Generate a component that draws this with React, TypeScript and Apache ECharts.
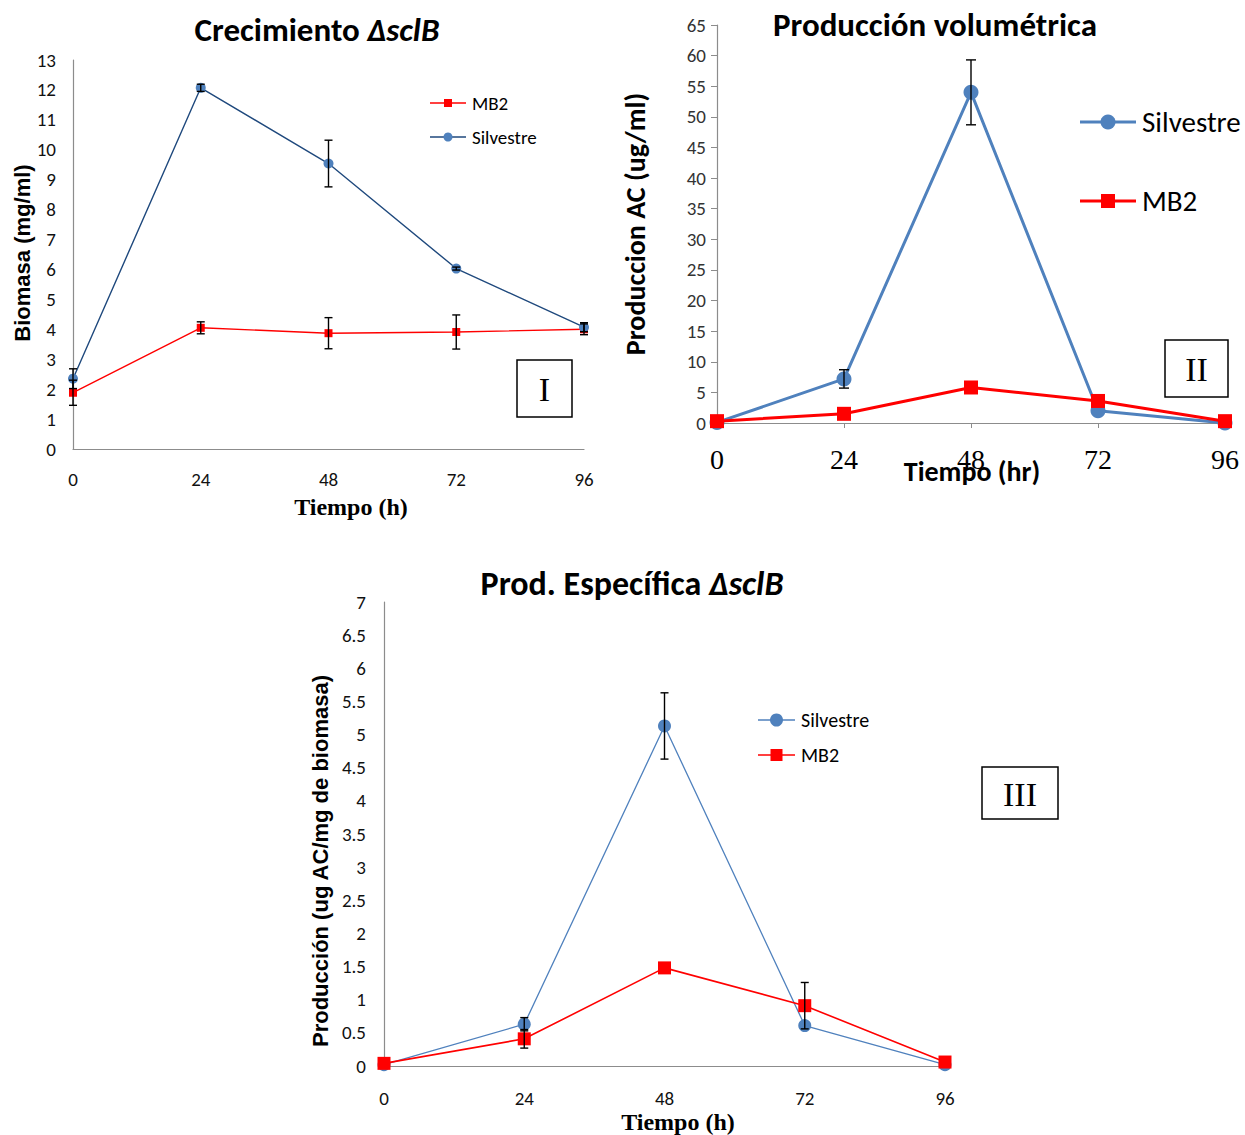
import React, { useEffect, useRef } from "react";
import * as echarts from "echarts";

// ---------- data ----------
const hours = [0, 24, 48, 72, 96];

// Chart I – Crecimiento (Biomasa mg/ml)
const bioSilvestre = [2.35, 12.07, 9.54, 6.03, 4.07];
const bioSilvestreErr = [0.33, 0.12, 0.78, 0.05, 0.15];
const bioMB2 = [1.88, 4.05, 3.87, 3.91, 4.0];
const bioMB2Err = [0.42, 0.2, 0.52, 0.57, 0.18];

// Chart II – Producción volumétrica (ug/ml)
const volSilvestre = [0.1, 7.2, 54.0, 2.0, 0.0];
const volSilvestreErr = [0, 1.5, 5.3, 0, 0];
const volMB2 = [0.3, 1.5, 5.8, 3.6, 0.3];

// Chart III – Prod. específica (ug AC/mg biomasa)
const espSilvestre = [0.02, 0.63, 5.13, 0.61, 0.02];
const espSilvestreErr = [0, 0.1, 0.5, 0, 0];
const espMB2 = [0.04, 0.41, 1.48, 0.91, 0.06];
const espMB2Err = [0, 0.14, 0, 0.35, 0];

const SANS = "Carlito, Lato, 'Open Sans', sans-serif";
const ARIAL = "'Liberation Sans', Arial, sans-serif";
const SERIF = "'Liberation Serif', 'Times New Roman', serif";

const BLUE = "#4F81BD";
const DARKBLUE = "#1F497D";
const RED = "#FF0000";

const pts = (vals: number[]) => hours.map((h, i) => [h, vals[i]]);
const errs = (vals: number[], e: number[]) =>
  hours
    .map((h, i) => [h, vals[i] - e[i], vals[i] + e[i], e[i]])
    .filter((d) => d[3] > 0)
    .map((d) => [d[0], d[1], d[2]]);

const errorBars = (data: number[][], idx: number, cap: number, lw: number) => ({
  type: "custom",
  xAxisIndex: idx,
  yAxisIndex: idx,
  data,
  z: 5,
  silent: true,
  encode: { x: 0, y: [1, 2] },
  renderItem: (params: any, api: any) => {
    const x = api.value(0);
    const lo = api.value(1);
    const hi = api.value(2);
    const top = api.coord([x, hi]);
    const bot = api.coord([x, lo]);
    const style = { stroke: "#000", lineWidth: lw };
    return {
      type: "group",
      children: [
        { type: "line", shape: { x1: top[0], y1: top[1], x2: bot[0], y2: bot[1] }, style },
        { type: "line", shape: { x1: top[0] - cap, y1: top[1], x2: top[0] + cap, y2: top[1] }, style },
        { type: "line", shape: { x1: bot[0] - cap, y1: bot[1], x2: bot[0] + cap, y2: bot[1] }, style },
      ],
    };
  },
});

const lineSeries = (
  name: string,
  vals: number[],
  idx: number,
  color: string,
  lineColor: string,
  width: number,
  symbol: string,
  size: number,
  z: number
) => ({
  type: "line",
  name,
  xAxisIndex: idx,
  yAxisIndex: idx,
  data: pts(vals),
  symbol,
  symbolSize: size,
  showAllSymbol: true,
  z,
  lineStyle: { color: lineColor, width },
  itemStyle: { color, borderWidth: 0 },
});

const legendItem = (
  x1: number,
  x2: number,
  y: number,
  color: string,
  lineColor: string,
  lw: number,
  shape: "circle" | "rect",
  size: number,
  label: string,
  fontSize: number
) => {
  const cx = (x1 + x2) / 2;
  const marker =
    shape === "circle"
      ? { type: "circle", shape: { cx, cy: y, r: size / 2 }, style: { fill: color } }
      : { type: "rect", shape: { x: cx - size / 2, y: y - size / 2, width: size, height: size }, style: { fill: color } };
  return [
    { type: "line", shape: { x1, y1: y, x2, y2: y }, style: { stroke: lineColor, lineWidth: lw } },
    marker,
    {
      type: "text",
      x: x2 + 6,
      y,
      style: { text: label, fontSize, fontFamily: SANS, fill: "#000", textVerticalAlign: "middle", textAlign: "left" },
    },
  ];
};

const box = (x: number, y: number, w: number, h: number, label: string) => [
  { type: "rect", shape: { x, y, width: w, height: h }, style: { fill: "#fff", stroke: "#000", lineWidth: 1.5 } },
  {
    type: "text",
    x: x + w / 2,
    y: y + h / 2 + 1,
    style: { text: label, fontSize: 34, fontFamily: SERIF, fill: "#000", textAlign: "center", textVerticalAlign: "middle" },
  },
];

const centeredText = (x: number, y: number, text: string, font: any, rotate = 0, rich?: any) => ({
  type: "text",
  x,
  y,
  rotation: rotate,
  style: {
    text,
    fill: "#000",
    textAlign: "center",
    textVerticalAlign: "middle",
    ...font,
    ...(rich ? { rich } : {}),
  },
});

export default function App() {
  const ref = useRef<HTMLDivElement>(null);

  useEffect(() => {
    if (!ref.current) return;
    const chart = echarts.init(ref.current, undefined, { renderer: "svg" });

    const axisGray = "#8C8C8C";

    const option: any = {
      animation: false,
      backgroundColor: "#fff",
      grid: [
        { left: 73, top: 60, width: 511, height: 389 },
        { left: 717, top: 25, width: 508, height: 398 },
        { left: 384, top: 602, width: 561, height: 464 },
      ],
      xAxis: [
        {
          type: "value",
          gridIndex: 0,
          min: 0,
          max: 96,
          interval: 24,
          axisLine: { show: true, lineStyle: { color: axisGray, width: 1.2 } },
          axisTick: { show: false },
          splitLine: { show: false },
          axisLabel: { margin: 21, fontSize: 19, fontFamily: SANS, color: "#111" },
        },
        {
          type: "value",
          gridIndex: 1,
          min: 0,
          max: 96,
          interval: 24,
          axisLine: { show: true, lineStyle: { color: axisGray, width: 1.2 } },
          axisTick: { show: true, length: 5, lineStyle: { color: axisGray } },
          splitLine: { show: false },
          axisLabel: { margin: 22, fontSize: 28, fontFamily: SERIF, color: "#000" },
        },
        {
          type: "value",
          gridIndex: 2,
          min: 0,
          max: 96,
          interval: 24,
          axisLine: { show: true, lineStyle: { color: axisGray, width: 1.2 } },
          axisTick: { show: false },
          splitLine: { show: false },
          axisLabel: { margin: 23, fontSize: 19, fontFamily: SANS, color: "#111" },
        },
      ],
      yAxis: [
        {
          type: "value",
          gridIndex: 0,
          min: 0,
          max: 13,
          interval: 1,
          axisLine: { show: true, lineStyle: { color: axisGray, width: 1.2 } },
          axisTick: { show: false },
          splitLine: { show: false },
          axisLabel: { margin: 17, fontSize: 19, fontFamily: SANS, color: "#111" },
        },
        {
          type: "value",
          gridIndex: 1,
          min: 0,
          max: 65,
          interval: 5,
          axisLine: { show: true, lineStyle: { color: axisGray, width: 1.2 } },
          axisTick: { show: true, length: 6, lineStyle: { color: axisGray } },
          splitLine: { show: false },
          axisLabel: { margin: 11, fontSize: 19, fontFamily: SANS, color: "#333" },
        },
        {
          type: "value",
          gridIndex: 2,
          min: 0,
          max: 7,
          interval: 0.5,
          axisLine: { show: true, lineStyle: { color: axisGray, width: 1.2 } },
          axisTick: { show: false },
          splitLine: { show: false },
          axisLabel: { margin: 18, fontSize: 19, fontFamily: SANS, color: "#111" },
        },
      ],
      series: [
        // Chart I
        lineSeries("MB2", bioMB2, 0, RED, RED, 1.4, "rect", 8, 2),
        lineSeries("Silvestre", bioSilvestre, 0, BLUE, DARKBLUE, 1.4, "circle", 10, 3),
        errorBars(errs(bioMB2, bioMB2Err), 0, 4, 1.4),
        errorBars(errs(bioSilvestre, bioSilvestreErr), 0, 4, 1.4),
        // Chart II
        lineSeries("Silvestre", volSilvestre, 1, BLUE, BLUE, 3, "circle", 15, 2),
        lineSeries("MB2", volMB2, 1, RED, RED, 3, "rect", 14, 3),
        errorBars(errs(volSilvestre, volSilvestreErr), 1, 5, 1.4),
        // Chart III
        lineSeries("Silvestre", espSilvestre, 2, BLUE, BLUE, 1.3, "circle", 13, 2),
        lineSeries("MB2", espMB2, 2, RED, RED, 1.6, "rect", 13, 3),
        errorBars(errs(espSilvestre, espSilvestreErr), 2, 4, 1.4),
        errorBars(errs(espMB2, espMB2Err), 2, 4, 1.4),
      ],
      graphic: [
        // titles
        centeredText(317, 30, "Crecimiento {i|ΔsclB}", { fontSize: 33, fontWeight: "bold", fontFamily: SANS }, 0, {
          i: { fontSize: 33, fontWeight: "bold", fontStyle: "italic", fontFamily: SANS },
        }),
        centeredText(935, 25, "Producción volumétrica", { fontSize: 33, fontWeight: "bold", fontFamily: SANS }),
        centeredText(632, 583, "Prod. Específica {i|ΔsclB}", { fontSize: 34, fontWeight: "bold", fontFamily: SANS }, 0, {
          i: { fontSize: 34, fontWeight: "bold", fontStyle: "italic", fontFamily: SANS },
        }),
        // axis names
        centeredText(22, 253, "Biomasa (mg/ml)", { fontSize: 22, fontWeight: "bold", fontFamily: ARIAL }, Math.PI / 2),
        centeredText(351, 507, "Tiempo (h)", { fontSize: 24, fontWeight: "bold", fontFamily: SERIF }),
        centeredText(635, 224, "Produccion AC (ug/ml)", { fontSize: 28, fontWeight: "bold", fontFamily: SANS }, Math.PI / 2),
        centeredText(972, 471, "Tiempo (hr)", { fontSize: 28, fontWeight: "bold", fontFamily: SANS }),
        centeredText(320, 861, "Producción (ug AC/mg de biomasa)", { fontSize: 22, fontWeight: "bold", fontFamily: ARIAL }, Math.PI / 2),
        centeredText(678, 1122, "Tiempo (h)", { fontSize: 24, fontWeight: "bold", fontFamily: SERIF }),
        // legends
        ...legendItem(430, 466, 103, RED, RED, 1.4, "rect", 8, "MB2", 19),
        ...legendItem(430, 466, 137, BLUE, DARKBLUE, 1.4, "circle", 9, "Silvestre", 19),
        ...legendItem(1080, 1136, 122, BLUE, BLUE, 3, "circle", 15, "Silvestre", 29),
        ...legendItem(1080, 1136, 201, RED, RED, 3, "rect", 14, "MB2", 29),
        ...legendItem(758, 795, 720, BLUE, BLUE, 1.3, "circle", 13, "Silvestre", 20),
        ...legendItem(758, 795, 755, RED, RED, 1.6, "rect", 12, "MB2", 20),
        // panel boxes
        ...box(517, 360, 55, 57, "I"),
        ...box(1165, 340, 63, 57, "II"),
        ...box(982, 767, 76, 52, "III"),
      ],
    };

    chart.setOption(option);
    return () => chart.dispose();
  }, []);

  return (
    <div
      ref={ref}
      style={{ position: "absolute", left: 0, top: 0, width: 1245, height: 1135, background: "#fff" }}
    />
  );
}
